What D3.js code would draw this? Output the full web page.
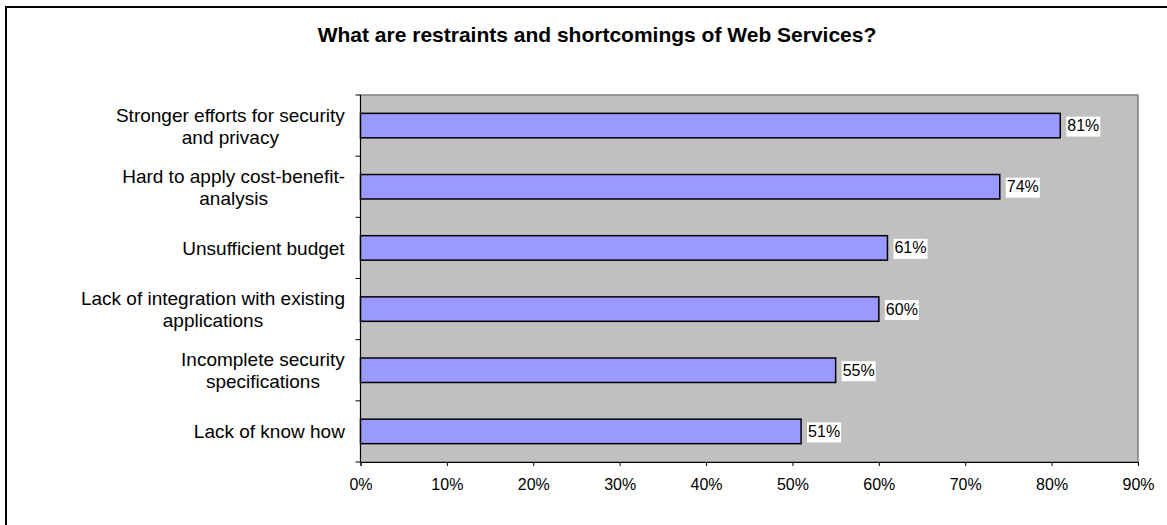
<!DOCTYPE html>
<html lang="en">
<head>
<meta charset="UTF-8">
<title>Restraints of Web Services</title>
<script src="https://cdn.jsdelivr.net/npm/d3@7"></script>
<style>
  body { margin: 0; background: #fff; }
  text { font-family: "Liberation Sans", Arial, sans-serif; fill: #000; }
  .title { font-size: 21px; font-weight: bold; }
  .cat { font-size: 19px; }
  .val { font-size: 16px; }
</style>
</head>
<body>
<div id="chart"></div>
<script>
var categories = [
  "Stronger efforts for security\nand privacy",
  "Hard to apply cost-benefit-\nanalysis",
  "Unsufficient budget",
  "Lack of integration with existing\napplications",
  "Incomplete security\nspecifications",
  "Lack of know how"
];
var values = [0.81, 0.74, 0.61, 0.60, 0.55, 0.51];
var xTicks = [0, 0.1, 0.2, 0.3, 0.4, 0.5, 0.6, 0.7, 0.8, 0.9];

(function() {
  var W = 1167, H = 525;
  var left = 360.5, right = 1138, top = 95, bottom = 462;

  var svg = d3.select("#chart").append("svg")
    .attr("width", W).attr("height", H);

  // outer chart border (right and bottom run off the page)
  svg.append("rect")
    .attr("x", 6).attr("y", 7)
    .attr("width", 1300).attr("height", 700)
    .attr("fill", "none").attr("stroke", "#000").attr("stroke-width", 2);

  svg.append("text").attr("class", "title")
    .attr("x", 597).attr("y", 42)
    .attr("text-anchor", "middle")
    .text("What are restraints and shortcomings of Web Services?");

  var x = d3.scaleLinear().domain([0, 0.9]).range([left, right]);
  var y = d3.scaleBand().domain(categories).range([top, bottom])
    .paddingInner(0.6).paddingOuter(0.3);

  svg.append("rect")
    .attr("x", left).attr("y", top)
    .attr("width", right - left).attr("height", bottom - top)
    .attr("fill", "#c0c0c0").attr("stroke", "#808080").attr("stroke-width", 1.5);

  // bottom axis
  var xAxis = svg.append("g")
    .attr("transform", "translate(0," + bottom + ")")
    .call(d3.axisBottom(x).tickValues(xTicks).tickFormat(d3.format(".0%"))
      .tickSize(4).tickPadding(13));
  xAxis.attr("font-family", null).attr("font-size", null);
  xAxis.select(".domain").attr("stroke", "#000");
  xAxis.selectAll(".tick line").attr("stroke", "#000");
  xAxis.selectAll(".tick text").style("font-size", "16px");

  // left axis line with ticks at band boundaries
  svg.append("line")
    .attr("x1", left).attr("x2", left).attr("y1", top).attr("y2", bottom)
    .attr("stroke", "#000");
  var bounds = d3.range(categories.length + 1).map(function(i) {
    return top + i * y.step();
  });
  svg.selectAll("line.ytick").data(bounds).enter().append("line")
    .attr("class", "ytick")
    .attr("x1", left - 5).attr("x2", left)
    .attr("y1", function(d) { return d; }).attr("y2", function(d) { return d; })
    .attr("stroke", "#000");

  // category labels: lines centred on each other, block right aligned
  categories.forEach(function(c) {
    var lines = c.split("\n");
    var cy = y(c) + y.bandwidth() / 2;
    var lh = 22;
    var t = svg.append("text").attr("class", "cat")
      .attr("text-anchor", "middle");
    lines.forEach(function(l, i) {
      t.append("tspan")
        .attr("x", 0)
        .attr("y", cy + 7 + (i - (lines.length - 1) / 2) * lh)
        .text(l);
    });
    var maxW = t.node().getBBox().width;
    t.selectAll("tspan").attr("x", 345 - maxW / 2);
  });

  // bars
  svg.selectAll("rect.bar").data(values).enter().append("rect")
    .attr("class", "bar")
    .attr("x", x(0))
    .attr("y", function(d, i) { return y(categories[i]); })
    .attr("width", function(d) { return x(d) - x(0); })
    .attr("height", y.bandwidth())
    .attr("fill", "#9999ff").attr("stroke", "#000").attr("stroke-width", 1.5);

  // value labels with white boxes
  values.forEach(function(v, i) {
    var cy = y(categories[i]) + y.bandwidth() / 2;
    var g = svg.append("g");
    var bg = g.append("rect").attr("fill", "#fff");
    var t = g.append("text").attr("class", "val")
      .attr("x", x(v) + 7).attr("y", cy + 5.5)
      .text(d3.format(".0%")(v));
    var b = t.node().getBBox();
    bg.attr("x", b.x - 1).attr("y", cy - 9)
      .attr("width", b.width + 2).attr("height", 20);
  });
})();
</script>
</body>
</html>
